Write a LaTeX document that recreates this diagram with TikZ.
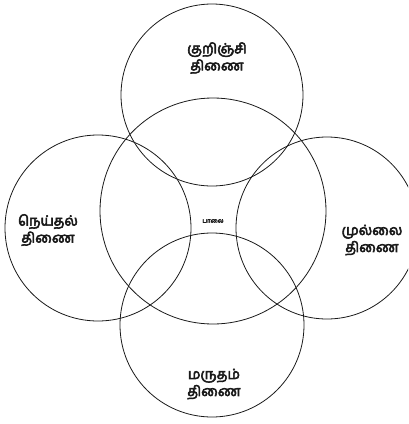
\documentclass[tikz,border=0pt]{standalone}
\usepackage{fontspec}
\usetikzlibrary{positioning,calc}
\newfontfamily\tamilfont[Script=Tamil,FakeBold=4]{Hind Madurai}
\definecolor{inkgray}{HTML}{1A1A1A}
\tikzset{
  tinai/.style={font=\tamilfont\fontsize{14}{17}\selectfont,align=center,text=inkgray},
  ring/.style={draw=inkgray,line width=0.8pt}
}

\begin{document}
\begin{tikzpicture}[x=1pt,y=-1pt]
\useasboundingbox (0,0) rectangle (408,424);
\begin{scope}
\clip (0,0) rectangle (408,424);
\foreach \x/\y/\r in {212/95/91,213/211/113,98/228/93,327/228/91,212/325/92}{
  \draw[ring] (\x,\y) circle (\r);
}
\end{scope}
\node[tinai] (kurinji) at (217,58) {குறிஞ்சி\\திணை};
\node[tinai] (neythal) at (48,230) {நெய்தல்\\திணை};
\node[tinai] (mullai) at (372,240) {முல்லை\\திணை};
\node[tinai] (marutham) at (214,384) {மருதம்\\திணை};
\node[font=\tamilfont\fontsize{6}{7}\selectfont,text=inkgray] (paalai) at (213,221) {பாலை};
\end{tikzpicture}
\end{document}
